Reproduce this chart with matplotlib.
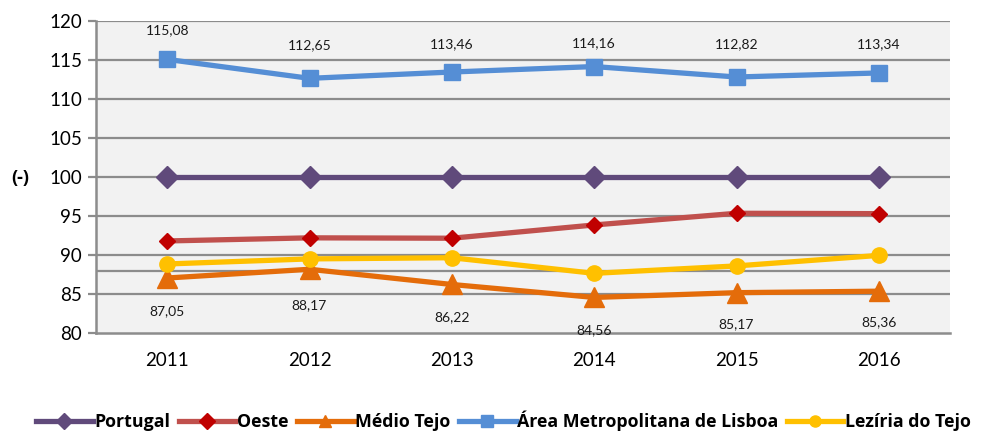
import matplotlib
matplotlib.use("Agg")
import matplotlib.pyplot as plt

plt.rcParams['font.family'] = ['Lato', 'DejaVu Sans']

years = ["2011", "2012", "2013", "2014", "2015", "2016"]
portugal = [100, 100, 100, 100, 100, 100]
oeste = [91.8, 92.2, 92.15, 93.85, 95.35, 95.3]
medio_tejo = [87.05, 88.17, 86.22, 84.56, 85.17, 85.36]
lisboa = [115.08, 112.65, 113.46, 114.16, 112.82, 113.34]
leziria = [88.85, 89.5, 89.65, 87.65, 88.6, 89.95]
yticks = [80, 85, 90, 95, 100, 105, 110, 115, 120]
extra_gridlines = [88]

# label offsets in pixels (text positions only)
lisboa_label_dy = [29, 33, 28, 23, 33, 29]
medio_label_dy = [-33, -36, -33, -33, -31, -31]

bold_fam = ["Open Sans", "DejaVu Sans"]

fig = plt.figure(figsize=(9.97, 4.32), dpi=100)
ax = fig.add_axes([96/997, 1-333/432, (950-96)/997, (333-21)/432])
ax.set_facecolor("#F2F2F2")

x = list(range(len(years)))
grid_c = "#8C8C8C"
for t in yticks[1:]:
    ax.axhline(t, color=grid_c, lw=1.6, zorder=1)
for t in extra_gridlines:
    ax.axhline(t, color=grid_c, lw=1.6, zorder=1)

lw = 3.8
ax.plot(x, portugal, color="#604A7B", lw=lw, marker="D", ms=11, mfc="#604A7B", mec="#604A7B", zorder=3, label="Portugal")
ax.plot(x, oeste, color="#C0504D", lw=lw, marker="D", ms=8, mfc="#C00000", mec="#C00000", zorder=3, label="Oeste")
ax.plot(x, medio_tejo, color="#E46C0A", lw=lw, marker="^", ms=14, mfc="#E46C0A", mec="#E46C0A", zorder=3, label="Médio Tejo")
ax.plot(x, lisboa, color="#558ED5", lw=lw, marker="s", ms=11, mfc="#558ED5", mec="#558ED5", zorder=3, label="Área Metropolitana de Lisboa")
ax.plot(x, leziria, color="#FFC000", lw=lw, marker="o", ms=11, mfc="#FFC000", mec="#FFC000", zorder=3, label="Lezíria do Tejo")

def fmt(v):
    return f"{v:.2f}".replace(".", ",")

for xi, v, dy in zip(x, lisboa, lisboa_label_dy):
    ax.annotate(fmt(v), (xi, v), xytext=(0, dy), textcoords="offset pixels",
                ha="center", va="center", fontsize=10, color="#1a1a1a")
for xi, v, dy in zip(x, medio_tejo, medio_label_dy):
    ax.annotate(fmt(v), (xi, v), xytext=(0, dy), textcoords="offset pixels",
                ha="center", va="center", fontsize=10, color="#1a1a1a")

ax.set_xlim(-0.5, len(years) - 0.5)
ax.set_ylim(80, 120)
ax.set_yticks(yticks)
ax.set_yticklabels([str(t) for t in yticks], fontsize=13.5)
ax.set_xticks(x)
ax.set_xticklabels(years, fontsize=13.5)
ax.tick_params(axis="x", length=0, pad=14)
ax.tick_params(axis="y", length=6, width=1.6, color=grid_c, pad=4, direction="out")
for s in ["top", "right"]:
    ax.spines[s].set_visible(False)
for s in ["left", "bottom"]:
    ax.spines[s].set_color(grid_c)
    ax.spines[s].set_linewidth(1.8)
    ax.spines[s].set_zorder(2)

fig.text(20/997, 1-178/432, "(-)", fontsize=13, fontweight="bold",
         family=bold_fam, ha="center", va="center")

leg = fig.legend(loc="center", bbox_to_anchor=(0.505, 1-421/432), ncol=5, frameon=False,
                 handlelength=3.2, handletextpad=0.1, columnspacing=0.45,
                 prop={"weight": "bold", "size": 12.8, "family": bold_fam})
for h in leg.legend_handles:
    h.set_markersize(8)

fig.savefig("out.png", dpi=100)
